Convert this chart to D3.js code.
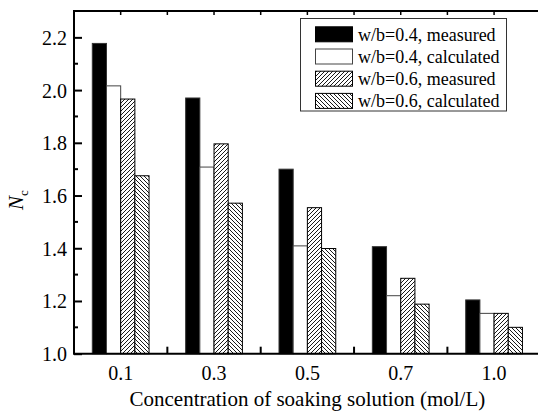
<!DOCTYPE html>
<html><head><meta charset="utf-8">
<script src="https://cdn.jsdelivr.net/npm/d3@7"></script>
<style>body{margin:0;background:#fff;} svg{display:block;}</style>
</head><body>
<svg id="chart" width="538" height="411"></svg>
<script>
const categories = ["0.1", "0.3", "0.5", "0.7", "1.0"];
const seriesNames = ["w/b=0.4, measured", "w/b=0.4, calculated", "w/b=0.6, measured", "w/b=0.6, calculated"];
const wb04Measured = [2.177, 1.970, 1.700, 1.406, 1.204];
const wb04Calculated = [2.016, 1.708, 1.409, 1.220, 1.153];
const wb06Measured = [1.966, 1.796, 1.554, 1.286, 1.153];
const wb06Calculated = [1.675, 1.571, 1.399, 1.188, 1.100];
const yTicks = [1.0, 1.2, 1.4, 1.6, 1.8, 2.0, 2.2];
const yMinorTicks = [1.1, 1.3, 1.5, 1.7, 1.9, 2.1];
const seriesValues = [wb04Measured, wb04Calculated, wb06Measured, wb06Calculated];

const svg = d3.select("#chart");
const L = 74, R = 540.75, T = 11, B = 353.7;
const font = "'Liberation Serif','Times New Roman',serif";

const defs = svg.append("defs");
function hatch(id, dir) {
  const p = defs.append("pattern").attr("id", id).attr("patternUnits", "userSpaceOnUse")
    .attr("width", 4).attr("height", 4);
  p.append("rect").attr("width", 4).attr("height", 4).attr("fill", "#fff");
  if (dir > 0) {
    p.append("path").attr("d", "M-1,1 L1,-1 M0,4 L4,0 M3,5 L5,3").attr("stroke", "#000").attr("stroke-width", 0.9);
  } else {
    p.append("path").attr("d", "M-1,3 L1,5 M0,0 L4,4 M3,-1 L5,1").attr("stroke", "#000").attr("stroke-width", 0.9);
  }
}
hatch("h1", 1);
hatch("h2", -1);
const fills = ["#000", "#fff", "url(#h1)", "url(#h2)"];
const strokes = ["#333", "#444", "#000", "#000"];

const x0 = d3.scaleBand().domain(categories).range([L, R]).padding(0);
const x1 = d3.scaleBand().domain(d3.range(4)).range([0, x0.bandwidth()]).paddingInner(0).paddingOuter(1.29);
const y = d3.scaleLinear().domain([1.0, 2.3]).range([B, T]);

// bottom ticks at boundaries
const boundaries = categories.slice(1).map(c => x0(c));
svg.append("g").selectAll("line").data(boundaries).join("line")
  .attr("x1", d => d).attr("x2", d => d).attr("y1", B).attr("y2", B - 7)
  .attr("stroke", "#000").attr("stroke-width", 2);

// bars
const g = svg.append("g");
categories.forEach((c, i) => {
  seriesValues.forEach((vals, s) => {
    g.append("rect")
      .attr("x", x0(c) + x1(s))
      .attr("y", y(vals[i]))
      .attr("width", x1.bandwidth())
      .attr("height", y(1.0) - y(vals[i]))
      .attr("fill", fills[s]).attr("stroke", strokes[s]).attr("stroke-width", 1);
  });
});

// y axis
const yAxis = d3.axisLeft(y).tickValues(yTicks).tickFormat(d3.format(".1f")).tickSizeInner(-8).tickSizeOuter(0).tickPadding(7);
const ya = svg.append("g").attr("transform", `translate(${L},0)`).call(yAxis);
ya.select(".domain").remove();
ya.selectAll(".tick line").attr("stroke", "#000").attr("stroke-width", 2);
ya.selectAll("text").attr("font-family", font).attr("font-size", 20).attr("fill", "#000").attr("dy", "0.35em");
svg.append("g").selectAll("line").data(yMinorTicks).join("line")
  .attr("x1", L).attr("x2", L + 4).attr("y1", d => y(d)).attr("y2", d => y(d))
  .attr("stroke", "#000").attr("stroke-width", 2);

// x axis labels
const xAxis = d3.axisBottom(x0).tickSize(0).tickPadding(12);
const xa = svg.append("g").attr("transform", `translate(0,${B})`).call(xAxis);
xa.select(".domain").remove();
xa.selectAll("text").attr("font-family", font).attr("font-size", 20).attr("fill", "#000");

// top ticks at boundaries and centers
const topTicks = [];
categories.forEach(c => { topTicks.push(x0(c) + x0.bandwidth() / 2); topTicks.push(x0(c) + x0.bandwidth()); });
svg.append("g").selectAll("line").data(topTicks).join("line")
  .attr("x1", d => d).attr("x2", d => d).attr("y1", T).attr("y2", T + 4)
  .attr("stroke", "#000").attr("stroke-width", 1.5);

// frame lines
svg.append("line").attr("x1", L).attr("x2", 538).attr("y1", B).attr("y2", B).attr("stroke", "#000").attr("stroke-width", 2);
svg.append("line").attr("x1", L).attr("x2", 538).attr("y1", T).attr("y2", T).attr("stroke", "#000").attr("stroke-width", 2);
svg.append("line").attr("x1", L).attr("x2", L).attr("y1", T - 1).attr("y2", B + 1).attr("stroke", "#000").attr("stroke-width", 2);

// axis titles
svg.append("text").attr("x", (L + R) / 2).attr("y", 406).attr("text-anchor", "middle")
  .attr("font-family", font).attr("font-size", 21).attr("fill", "#000")
  .text("Concentration of soaking solution (mol/L)");
const yl = svg.append("text").attr("transform", "translate(23,200) rotate(-90)").attr("text-anchor", "middle")
  .attr("font-family", font).attr("font-size", 21).attr("fill", "#000");
yl.append("tspan").attr("font-style", "italic").text("N");
yl.append("tspan").attr("font-size", 13).attr("dy", 5).text("c");

// legend
const lg = svg.append("g");
lg.append("rect").attr("x", 300.5).attr("y", 18.5).attr("width", 206).attr("height", 92.5)
  .attr("fill", "#fff").attr("stroke", "#333").attr("stroke-width", 1);
seriesNames.forEach((name, s) => {
  const cy = 34.3 + s * 22.2;
  lg.append("rect").attr("x", 315.5).attr("y", cy - 7.5).attr("width", 37).attr("height", 15)
    .attr("fill", fills[s]).attr("stroke", s === 1 ? "#444" : "#000").attr("stroke-width", 1);
  lg.append("text").attr("x", 358).attr("y", cy).attr("dy", "0.35em")
    .attr("font-family", font).attr("font-size", 18).attr("fill", "#000").text(name);
});
</script>
</body></html>
